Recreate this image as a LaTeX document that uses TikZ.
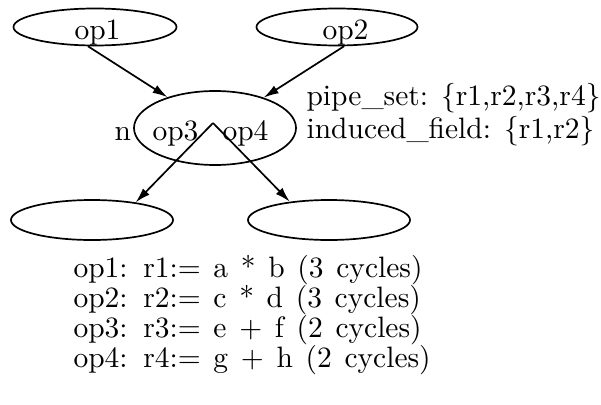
\documentclass[tikz,border=0pt]{standalone}
\usetikzlibrary{shapes.geometric,arrows.meta}
\newcommand\mywidespaces{\spaceskip=4.3pt\relax\xspaceskip=5.3pt\relax}
\begin{document}
\begin{tikzpicture}[x=1pt,y=-1pt,
  txt/.style={font=\fontsize{10}{12}\selectfont, inner sep=0pt, anchor=base west, scale=2.95, transform shape},
  wide/.style={txt, font=\fontsize{10}{12}\selectfont\mywidespaces},
  oval/.style={draw, ellipse, line width=1.7pt, inner sep=0pt},
  arr/.style={line width=1.7pt, -{Latex[length=15pt,width=9pt]}}]
\useasboundingbox (0,0) rectangle (601,404);
% ellipses
\node[oval, minimum width=163pt, minimum height=37pt] (e1) at (95,27) {};
\node[oval, minimum width=161pt, minimum height=37pt] (e2) at (337,27) {};
\node[oval, minimum width=162pt, minimum height=74pt] (e3) at (215,128) {};
\node[oval, minimum width=162pt, minimum height=40pt] (e4) at (92,220) {};
\node[oval, minimum width=162pt, minimum height=40pt] (e5) at (329,220) {};
% labels
\node[txt] (t1) at (74,40) {op1};
\node[txt] (t2) at (322,40) {op2};
\node[txt] (tn) at (114,140) {n};
\node[txt] (t3) at (152,140) {op3};
\node[txt] (t4) at (222,140) {op4};
\node[txt] (p1) at (306,105) {pipe\_set: \{r1,r2,r3,r4\}};
\node[txt] (p2) at (306,138) {induced\_field: \{r1,r2\}};
\node[wide] (l1) at (73,277) {op1: r1:= a * b (3 cycles)};
\node[wide] (l2) at (73,307) {op2: r2:= c * d (3 cycles)};
\node[wide] (l3) at (73,337) {op3: r3:= e + f (2 cycles)};
\node[wide] (l4) at (73,367) {op4: r4:= g + h (2 cycles)};
% connectors
\coordinate (apex) at (213,123);
\draw[arr] (e1.250) -- (e3.147);
\draw[arr] (e2.290) -- (e3.32);
\draw[arr] (apex) -- (e4.22);
\draw[arr] (apex) -- (e5.155);
\end{tikzpicture}
\end{document}
